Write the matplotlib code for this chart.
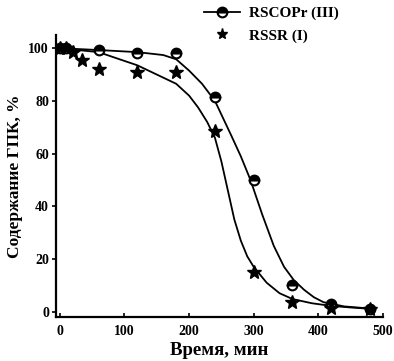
import matplotlib
matplotlib.use("Agg")
import matplotlib.pyplot as plt

# measured points
t_iii = [0, 10, 60, 120, 180, 240, 300, 360, 420, 480]
v_iii = [100, 100, 99.2, 98.2, 98, 81.4, 50, 10.2, 3, 1.1]
t_i = [0, 10, 20, 34, 60, 120, 180, 240, 300, 360, 420, 480]
v_i = [100, 100, 98.5, 95.5, 92.2, 91, 91, 68.5, 15.2, 3.8, 1.5, 1]

# fitted curves
ct_iii = [0, 60, 120, 160, 180, 200, 220, 240, 265, 280, 295, 313, 331, 347, 362, 378, 393, 408, 440, 480]
cv_iii = [100, 99.3, 98.5, 97.4, 95.8, 91.5, 86.5, 80, 67, 59, 50, 37, 25, 17, 12, 8.3, 5.5, 3.6, 2, 1.2]
ct_i = [0, 60, 120, 180, 200, 214, 228, 240, 250, 260, 270, 280, 290, 300, 320, 340, 360, 390, 420, 450, 480]
cv_i = [100, 98.5, 93.5, 86.5, 82, 77.5, 72, 66, 57, 46, 35, 27, 21, 17, 11, 7, 4.8, 3.2, 2.2, 1.6, 1.1]

plt.rcParams['font.family'] = ['Liberation Serif', 'DejaVu Serif']
plt.rcParams['font.weight'] = 'bold'

fig = plt.figure(figsize=(3.94, 3.61), dpi=100)
ax = fig.add_axes([0.142, 0.122, 0.830, 0.781])

ax.plot(ct_iii, cv_iii, color='black', lw=1.3)
ax.plot(ct_i, cv_i, color='black', lw=1.3)
ax.plot(t_iii, v_iii, linestyle='none', marker='o', ms=7, color='black',
        fillstyle='top', markerfacecoloralt='white', mew=1.5)
ax.plot(t_i, v_i, linestyle='none', marker='*', ms=10, color='black')

h1, = ax.plot([], [], color='black', lw=1.3, marker='o', ms=7,
              fillstyle='top', markerfacecoloralt='white', mew=1.5)
h2, = ax.plot([], [], linestyle='none', marker='*', ms=8, color='black')
fig.legend([h1, h2], ['RSCOPr (III)', 'RSSR (I)'], loc='upper left',
           bbox_to_anchor=(0.482, 1.02), frameon=False, fontsize=11,
           handlelength=2.4, handletextpad=0.55, labelspacing=0.55)

ax.set_xlim(-6, 500)
ax.set_ylim(-2, 105)
ax.set_xticks([0, 100, 200, 300, 400, 500])
ax.set_yticks([0, 20, 40, 60, 80, 100])
for s in ['top', 'right']:
    ax.spines[s].set_visible(False)
for s in ['left', 'bottom']:
    ax.spines[s].set_linewidth(1.6)
ax.tick_params(axis='x', direction='in', length=3, width=1.2, labelsize=10, pad=6)
ax.tick_params(axis='y', direction='out', length=3, width=1.2, labelsize=10, pad=2)
for lab in ax.get_xticklabels() + ax.get_yticklabels():
    lab.set_fontweight('bold')
ax.set_xlabel('Время, мин', fontsize=13.5, fontweight='bold', labelpad=3)
ax.set_ylabel('Содержание ГПК, %', fontsize=12.5, fontweight='bold', labelpad=4)

fig.savefig('out.png', dpi=100)
